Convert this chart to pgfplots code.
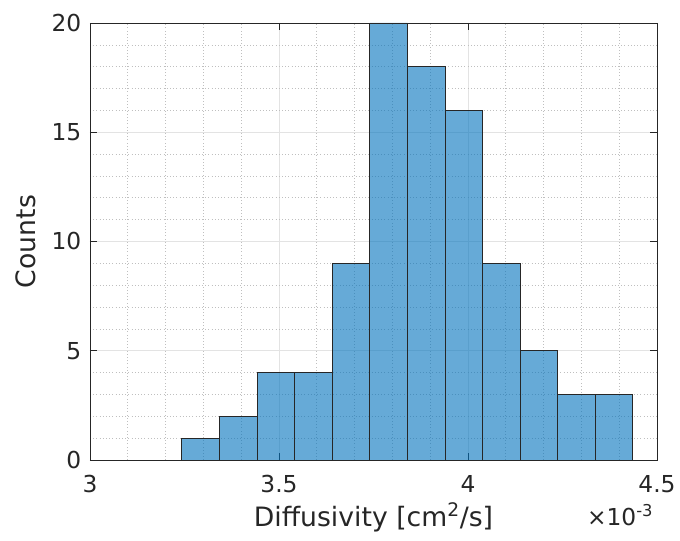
\documentclass[border=0pt]{standalone}
\usepackage{fontspec}
\setmainfont{DejaVu Sans}
\usepackage{pgfplots}
\pgfplotsset{compat=1.18}
\definecolor{mlblue}{rgb}{0,0.447,0.741}
\definecolor{axgray}{rgb}{0.15,0.15,0.15}

\begin{document}
\begin{tikzpicture}
\begin{axis}[
  width=425.25pt, height=327.75pt,
  scale only axis,
  xmin=3, xmax=4.5, ymin=0, ymax=20,
  xtick={3,3.5,4,4.5},
  ytick={0,5,10,15,20},
  minor x tick num=4,
  minor y tick num=4,
  grid=both,
  major grid style={gray!22, line width=0.5pt},
  minor grid style={gray!50, dotted, line width=0.5pt},
  tick align=inside,
  major tick length=5pt,
  minor tick length=0pt,
  tick style={axgray, line width=0.6pt},
  axis line style={axgray, line width=0.6pt},
  xticklabel style={/pgf/number format/assume math mode=true, yshift=-8pt},
  yticklabel style={/pgf/number format/assume math mode=true, xshift=-3pt},
  ticklabel style={font=\fontsize{17.5}{20}\selectfont, text=axgray},
  label style={font=\fontsize{20}{24}\selectfont, text=axgray},
  xlabel={Diffusivity [cm\textsuperscript{2}/s]},
  ylabel={Counts},
  xlabel style={at={(rel axis cs:0.5,0)}, anchor=base, yshift=-50pt},
  ylabel style={at={(rel axis cs:-0.114,0.5)}, anchor=center, rotate=0},
  clip=false,
]
\addplot[ybar interval, fill=mlblue, fill opacity=0.6, draw=black!85, line width=0.6pt]
coordinates {
  (3.243,1) (3.342,2) (3.442,4) (3.541,4) (3.641,9) (3.740,20)
  (3.840,18) (3.939,16) (4.038,9) (4.138,5) (4.237,3) (4.337,3) (4.436,3)
};
\node[anchor=base, font=\fontsize{17.5}{20}\selectfont, text=axgray] at (rel axis cs:0.935,0) [yshift=-49pt] {×10\textsuperscript{-3}};
\coordinate (sw) at (rel axis cs:0,0);
\coordinate (ne) at (rel axis cs:1,1);
\end{axis}
\pgfresetboundingbox
\path[use as bounding box] ([shift={(-67.5pt,-60.75pt)}]sw) rectangle ([shift={(17.25pt,17.25pt)}]ne);
\end{tikzpicture}
\end{document}
